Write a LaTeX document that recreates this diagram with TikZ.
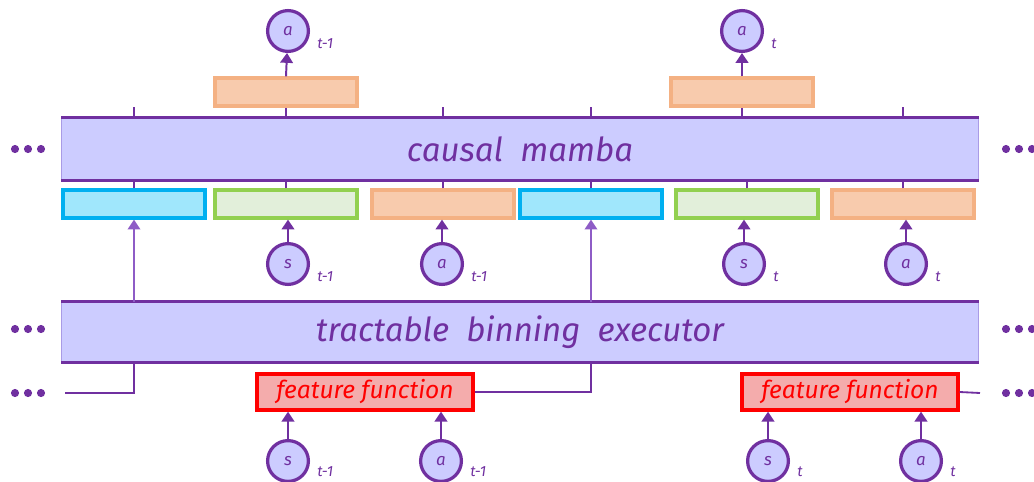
\documentclass[tikz,border=0pt]{standalone}
\usepackage{fontspec}
\setmainfont{Fira Sans}
\usepackage{tikz}
\usetikzlibrary{arrows.meta,positioning}

\definecolor{purp}{HTML}{7030A0}
\definecolor{purplt}{HTML}{8E5CC6}
\definecolor{lav}{HTML}{CCCCFF}
\definecolor{lavedge}{HTML}{A99BE6}
\definecolor{cyanb}{HTML}{00B0F0}
\definecolor{cyanf}{HTML}{A0E7FC}
\definecolor{greenb}{HTML}{92D050}
\definecolor{greenf}{HTML}{E2EFDA}
\definecolor{orngb}{HTML}{F4B183}
\definecolor{orngf}{HTML}{F8CBAD}
\definecolor{redf}{HTML}{F4ACAC}

\begin{document}
\begin{tikzpicture}[
  x=0.025cm, y=-0.025cm,
  band/.style={rectangle, fill=lav, draw=lavedge, line width=0.6pt, minimum width=22.9cm, inner sep=0pt, text=purp, font=\fontsize{23.5}{27}\selectfont\itshape},
  tok/.style={rectangle, line width=2.3pt, minimum width=3.55cm, minimum height=0.7cm, inner sep=0pt},
  emb/.style={tok, draw=cyanb, fill=cyanf},
  obs/.style={tok, draw=greenb, fill=greenf},
  act/.style={tok, draw=orngb, fill=orngf},
  feat/.style={rectangle, draw=red, fill=redf, line width=2.4pt, minimum width=5.4cm, minimum height=0.9cm, inner sep=0pt, text=red, font=\fontsize{17.5}{20}\selectfont\itshape},
  var/.style={circle, draw=purp, fill=lav, line width=2.3pt, minimum size=1.02cm, inner sep=0pt, text=purp, font=\fontsize{12}{14}\selectfont\itshape},
  sub/.style={anchor=west, text=purp, font=\fontsize{10.5}{12}\selectfont\itshape, inner sep=0pt},
  ln/.style={purp, line width=1.3pt},
  arr/.style={-{Triangle[width=9pt,length=7pt]}, purp, line width=1.4pt},
  arrlt/.style={-{Triangle[width=9pt,length=7pt]}, purplt, line width=1.1pt}
]
\useasboundingbox (0,0) rectangle (1034,481);

% the two long layers
\node[band, minimum height=1.55cm] (mamba) at (520,149) {causal\ \ mamba};
\node[band, minimum height=1.5cm]  (tbe)   at (520,332) {tractable\ \ binning\ \ executor};
\draw[purp, line width=1.6pt] (mamba.north west) -- (mamba.north east);
\draw[purp, line width=1.6pt] (mamba.south west) -- (mamba.south east);
\draw[purp, line width=1.6pt] (tbe.north west) -- (tbe.north east);
\draw[purp, line width=1.6pt] (tbe.south west) -- (tbe.south east);

% token row under the mamba layer
\node[emb] (e1) at (134,204) {};
\node[obs] (o1) at (286,204) {};
\node[act] (p1) at (443,204) {};
\node[emb] (e2) at (591,204) {};
\node[obs] (o2) at (747,204) {};
\node[act] (p2) at (903,204) {};

% action heads on top
\node[act] (h1) at (286,92) {};
\node[act] (h2) at (742,92) {};
\node[var] (y1) at (288,31) {a};
\node[var] (y2) at (742,31) {a};
\node[sub] at ([shift={(7,13)}]y1.east) {t-1};
\node[sub] at ([shift={(7,13)}]y2.east) {t};

% inputs of the token row
\node[var] (s1) at (288,264) {s};
\node[var] (a1) at (442,264) {a};
\node[var] (s2) at (744,264) {s};
\node[var] (a2) at (906,264) {a};
\node[sub] at ([shift={(7,13)}]s1.east) {t-1};
\node[sub] at ([shift={(7,13)}]a1.east) {t-1};
\node[sub] at ([shift={(7,13)}]s2.east) {t};
\node[sub] at ([shift={(7,13)}]a2.east) {t};

% feature functions and their inputs
\node[feat] (f1) at (365,392) {feature\ function};
\node[feat] (f2) at (850,392) {feature\ function};
\node[var] (s3) at (288,461) {s};
\node[var] (a3) at (441,461) {a};
\node[var] (s4) at (768,461) {s};
\node[var] (a4) at (921,461) {a};
\node[sub] at ([shift={(7,11)}]s3.east) {t-1};
\node[sub] at ([shift={(7,11)}]a3.east) {t-1};
\node[sub] at ([shift={(7,11)}]s4.east) {t};
\node[sub] at ([shift={(7,11)}]a4.east) {t};
\coordinate (lin)  at (65,393);
\coordinate (rout) at (980,393);

% ticks between the layers and the tokens
\foreach \n in {e1,o1,p1,e2,o2,p2}
  \draw[ln] (\n.north) -- (\n |- mamba.south);
\foreach \n in {e1,p1,e2,p2}
  \draw[ln] (\n |- mamba.north) -- ++(0,-11);
\draw[ln] (h1 |- mamba.north) -- (h1.south);
\draw[ln] (h2 |- mamba.north) -- (h2.south);
\draw[arr] (h1.north) -- (y1);
\draw[arr] (h2.north) -- (y2);

\draw[arr] (s1) -- (s1 |- o1.south);
\draw[arr] (a1) -- (a1 |- p1.south);
\draw[arr] (s2) -- (s2 |- o2.south);
\draw[arr] (a2) -- (a2 |- p2.south);
\draw[arrlt] (e1 |- tbe.north) -- (e1.south);
\draw[arrlt] (e2 |- tbe.north) -- (e2.south);

\draw[arr] (s3) -- (s3 |- f1.south);
\draw[arr] (a3) -- (a3 |- f1.south);
\draw[arr] (s4) -- (s4 |- f2.south);
\draw[arr] (a4) -- (a4 |- f2.south);
\draw[ln] (lin) -| (e1 |- tbe.south);
\draw[ln] (f1.east) -| (e2 |- tbe.south);
\draw[ln] (f2.east) -- (rout);

% ellipsis dots on both sides
\foreach \y in {149,329,393}{
  \foreach \x in {15,28,41} \fill[purp] (\x,\y) circle (2.9pt);
  \foreach \x in {1006,1019,1032} \fill[purp] (\x,\y) circle (2.9pt);
}
\end{tikzpicture}
\end{document}
